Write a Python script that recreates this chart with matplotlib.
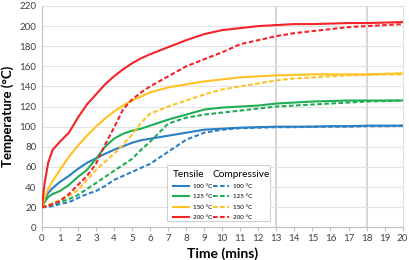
import numpy as np
import matplotlib
matplotlib.use("Agg")
import matplotlib.pyplot as plt
from matplotlib.patches import Rectangle

plt.rcParams['font.family'] = ['Lato', 'DejaVu Sans']

# time axis (mins)
t = [0, 0.15, 0.35, 0.6, 1, 1.5, 2, 2.5, 3, 3.5, 4, 4.5, 5, 5.5, 6, 7, 8, 9, 10,
     11, 12, 13, 14, 15, 16, 17, 18, 19, 20]

# tensile
t100 = [20, 27, 34, 39, 45, 51, 58, 64, 68.5, 73, 77, 80.5, 84, 86.5, 88, 91, 94, 97, 98,
        99, 99.5, 100, 100, 100, 100.5, 100.5, 101, 101, 101]
t125 = [20, 25, 30, 33, 36, 42, 50, 57, 68, 80, 88, 93, 96, 98, 101, 107, 112, 117, 119,
        120, 121, 123, 124, 125, 125.5, 126, 126, 126, 126]
t150 = [20, 29, 38, 46, 57, 70, 81, 91, 100, 108, 115, 121, 126, 130, 134, 139, 142, 145, 147,
        149, 150, 151, 151.5, 152, 152, 152, 152, 152.5, 153]
t200 = [20, 43, 64, 77, 85, 94, 109, 122, 132, 142, 150, 157, 163, 168, 172, 179, 186, 192, 196,
        198, 200, 201, 202, 202, 202.5, 203, 203, 203.5, 204]

# compressive
c100 = [20, 20, 20.5, 21, 23, 25, 29, 33, 36, 41, 47, 51, 55, 59, 63, 75, 87, 94, 97,
        98.5, 99, 99.5, 99.5, 100, 100, 100, 100.5, 100.5, 101]
c125 = [20, 20.5, 21.5, 22.5, 25, 28, 32, 38, 44, 50, 56, 62, 68, 77, 85, 103, 109, 112, 114,
        116, 118, 120, 121, 122, 123, 124, 125, 125.5, 126]
c150 = [20, 20.5, 22, 24, 27, 31, 37, 47, 57, 65, 73, 82, 92, 104, 113, 120, 126, 132, 137,
        140, 143, 146, 148, 149, 150, 151, 151.5, 152, 152]
c200 = [20, 20.5, 21.5, 23, 26, 33, 42, 51, 63, 82, 99, 117, 127, 134, 140, 150, 160, 167, 174,
        182, 186, 190, 193, 195, 197, 199, 200, 201, 202]

labels = ["100 °C", "125 °C", "150 °C", "200 °C"]
colors = ["#2b7fc3", "#1fae54", "#ffc222", "#f5222a"]

fig = plt.figure(figsize=(4.1, 2.6), dpi=100)
ax = fig.add_axes([0.102, 0.126, 0.880, 0.851])

tens = []
for y, c, l in zip([t100, t125, t150, t200], colors, labels):
    h, = ax.plot(t, y, color=c, lw=1.5, label=l, zorder=3)
    tens.append(h)
comp = []
for y, c, l in zip([c100, c125, c150, c200], colors, labels):
    h, = ax.plot(t, y, color=c, lw=1.5, ls=(0, (2.2, 1.2)), label=l, zorder=3)
    comp.append(h)

ax.set_xlim(0, 20)
ax.set_ylim(0, 220)
ax.set_xticks(range(0, 21))
ax.set_yticks(range(0, 221, 20))
ax.tick_params(axis='both', labelsize=7, colors='#404040')
ax.tick_params(axis='y', length=0, pad=4)
ax.tick_params(axis='x', length=3, color='#bfbfbf', pad=2)
ax.grid(axis='y', color='#e3e3e3', lw=0.8, zorder=0)
for xv in [13, 18]:
    ax.axvline(xv, color='#cfcfcf', lw=1.2, zorder=1)
for s in ['top', 'right']:
    ax.spines[s].set_color('#e0e0e0')
for s in ['left', 'bottom']:
    ax.spines[s].set_color('#bfbfbf')

ax.set_xlabel("Time (mins)", fontsize=10, fontweight='bold', labelpad=3)
ax.set_ylabel("Temperature (°C)", fontsize=9.5, fontweight='bold', labelpad=4)

# legend frame
ax.add_patch(Rectangle((0.347, 0.028), 0.285, 0.254, transform=ax.transAxes,
                       facecolor='white', edgecolor='#d0d0d0', lw=0.8, zorder=4))
kw = dict(frameon=False, fontsize=4.5, handlelength=2.6, labelspacing=0.8,
          title_fontsize=7.3, alignment='left', borderpad=0.3, handletextpad=0.6)
leg1 = ax.legend(handles=tens, title="Tensile", loc='upper left',
                 bbox_to_anchor=(0.35, 0.283), **kw)
leg1.set_zorder(5)
ax.add_artist(leg1)
leg2 = ax.legend(handles=comp, title="Compressive", loc='upper left',
                 bbox_to_anchor=(0.46, 0.283), **kw)
leg2.set_zorder(5)

fig.savefig("out.png", dpi=100)
